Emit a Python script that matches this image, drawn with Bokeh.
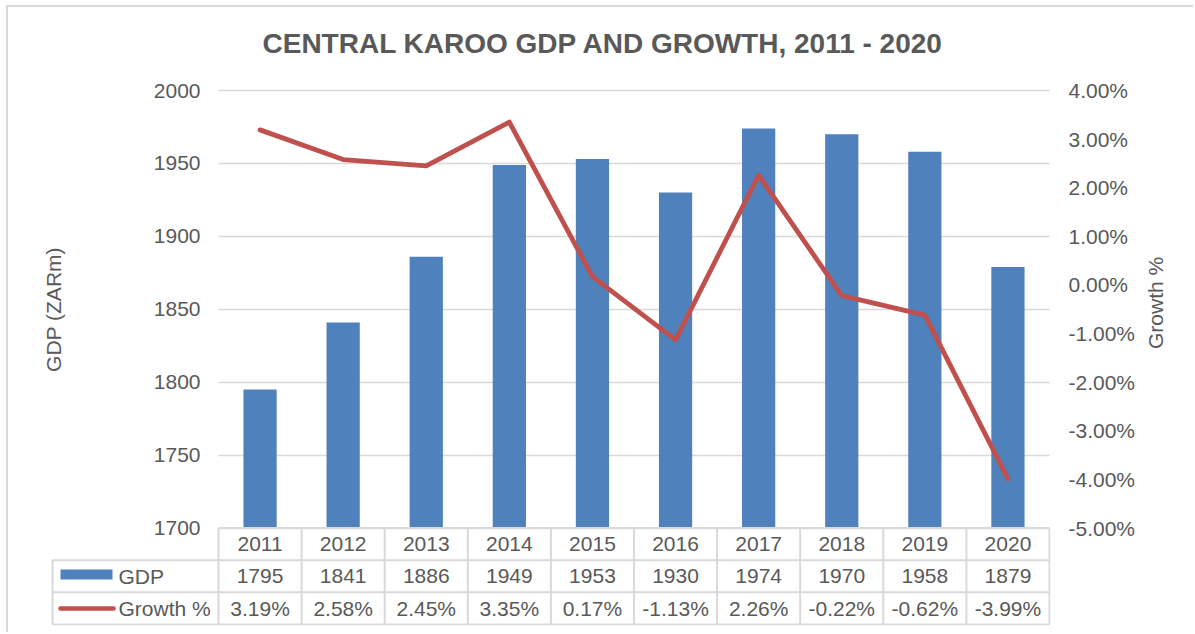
import math
from bokeh.plotting import figure
from bokeh.models import Range1d, LinearAxis, FixedTicker, PrintfTickFormatter
from bokeh.core.properties import value
from bokeh.embed import file_html
from bokeh.resources import INLINE

# ---------------- data ----------------
years = ["2011", "2012", "2013", "2014", "2015", "2016", "2017", "2018", "2019", "2020"]
gdp = [1795, 1841, 1886, 1949, 1953, 1930, 1974, 1970, 1958, 1879]
growth = [3.19, 2.58, 2.45, 3.35, 0.17, -1.13, 2.26, -0.22, -0.62, -3.99]
gdp_ticks = [1700, 1750, 1800, 1850, 1900, 1950, 2000]
growth_ticks = [-5, -4, -3, -2, -1, 0, 1, 2, 3, 4]
title_text = "CENTRAL KAROO GDP AND GROWTH, 2011 - 2020"
gdp_axis_label = "GDP (ZARm)"
growth_axis_label = "Growth %"
row_labels = ["GDP", "Growth %"]

# ---------------- layout (page pixels) ----------------
ORIGIN_X, ORIGIN_Y = 8, 7          # canvas origin (after css margin + border)
W, H = 1187, 627
FRAME_L, FRAME_R = 12, 1050
FRAME_T, FRAME_B = 72, 625
PLOT_L = 218                       # left edge of category area
AXIS_T, AXIS_B = 90, 527.5         # y of top / bottom tick
TABLE_B = 624
N = len(years)
CAT_W = 83.1
ROW_H = (TABLE_B - AXIS_B) / 3.0
LABEL_COL_L = 52
TITLE_L = 262

TXT = "#595959"
GRID = "#d9d9d9"
BLUE = "#4F81BD"
RED = "#C0504D"
FONT = "Liberation Sans"
FS = "21px"


def px_x(px):
    return (px - PLOT_L) / CAT_W


def px_t(py):
    return (TABLE_B - py) / ROW_H


g0, g1 = gdp_ticks[0], gdp_ticks[-1]
gscale = (AXIS_B - AXIS_T) / (g1 - g0)
gdp_range = Range1d(g0 - (FRAME_B - AXIS_B) / gscale, g1 + (AXIS_T - FRAME_T) / gscale)
r0, r1 = growth_ticks[0], growth_ticks[-1]
rscale = (AXIS_B - AXIS_T) / (r1 - r0)
growth_range = Range1d(r0 - (FRAME_B - AXIS_B) / rscale, r1 + (AXIS_T - FRAME_T) / rscale)
table_range = Range1d(px_t(FRAME_B), px_t(FRAME_T))

p = figure(width=W, height=H,
           x_range=Range1d(px_x(FRAME_L), px_x(FRAME_R)), y_range=gdp_range,
           output_backend="svg", toolbar_location=None,
           min_border_left=FRAME_L - ORIGIN_X,
           min_border_right=W - (FRAME_R - ORIGIN_X),
           min_border_top=FRAME_T - ORIGIN_Y,
           min_border_bottom=H - (FRAME_B - ORIGIN_Y),
           title=title_text)
p.styles = {"margin-left": "6px", "margin-top": "5px",
            "border-left": "2px solid " + GRID, "border-top": "2px solid " + GRID}
p.extra_y_ranges = {"growth": growth_range, "table": table_range}
p.outline_line_color = None
p.background_fill_color = "white"
p.border_fill_color = "white"

p.title.text_font = FONT
p.title.text_font_size = "28px"
p.title.text_font_style = "bold"
p.title.text_color = TXT
p.title.align = "left"
p.title.offset = TITLE_L - FRAME_L
p.title.standoff = 28

p.xaxis.visible = False
p.xgrid.visible = False

ax = p.left[0]
ax.fixed_location = 0
ax.ticker = FixedTicker(ticks=gdp_ticks)
ax.bounds = (g0, g1)
ax.axis_line_color = None
ax.major_tick_line_color = None
ax.minor_tick_line_color = None
ax.major_tick_out = 0
ax.major_tick_in = 0
ax.major_label_standoff = 18
ax.major_label_text_font = FONT
ax.major_label_text_font_size = FS
ax.major_label_text_color = TXT
ax.axis_label = gdp_axis_label
ax.axis_label_standoff = 86
ax.axis_label_text_font = FONT
ax.axis_label_text_font_size = FS
ax.axis_label_text_font_style = "normal"
ax.axis_label_text_color = TXT

p.ygrid.ticker = FixedTicker(ticks=gdp_ticks)
p.ygrid.grid_line_color = GRID
p.ygrid.grid_line_width = 1.5
try:
    p.ygrid.cross_bounds = (0, N)
except Exception:
    p.ygrid.visible = False
    p.segment(x0=0, y0=gdp_ticks, x1=N, y1=gdp_ticks, line_color=GRID, line_width=1.5)

rax = LinearAxis(y_range_name="growth", ticker=FixedTicker(ticks=growth_ticks),
                 formatter=PrintfTickFormatter(format="%.2f%%"), bounds=(r0, r1),
                 axis_line_color=None, major_tick_line_color=None, minor_tick_line_color=None,
                 major_tick_out=0, major_tick_in=0, major_label_standoff=18,
                 major_label_text_font=FONT, major_label_text_font_size=FS,
                 major_label_text_color=TXT,
                 axis_label=growth_axis_label, axis_label_standoff=17,
                 axis_label_text_font=FONT, axis_label_text_font_size=FS,
                 axis_label_text_font_style="normal", axis_label_text_color=TXT)
try:
    rax.axis_label_orientation = math.pi / 2
except Exception:
    pass
p.add_layout(rax, "right")

xc = [i + 0.5 for i in range(N)]

p.vbar(x=xc, top=gdp, bottom=g0, width=0.4, fill_color=BLUE, line_color=None)

# ---------------- data table ----------------
lab_x = px_x(LABEL_COL_L)
vx = list(range(N + 1))
p.segment(x0=vx, y0=0, x1=vx, y1=3, y_range_name="table", line_color=GRID, line_width=2)
p.segment(x0=lab_x, y0=0, x1=lab_x, y1=2, y_range_name="table", line_color=GRID, line_width=2)
p.segment(x0=lab_x, y0=[0, 1, 2], x1=N, y1=[0, 1, 2], y_range_name="table",
          line_color=GRID, line_width=2)
p.segment(x0=0, y0=3, x1=N, y1=3, y_range_name="table", line_color=GRID, line_width=2)

p.line(xc, growth, y_range_name="growth", line_color=RED, line_width=4.8,
       line_join="round", line_cap="round")

txt_kw = dict(y_range_name="table", text_align="center", text_baseline="middle",
              text_font=value(FONT), text_font_size=FS, text_color=TXT)
p.text(x=xc, y=[2.5] * N, text=years, **txt_kw)
p.text(x=xc, y=[1.5] * N, text=[str(v) for v in gdp], **txt_kw)
p.text(x=xc, y=[0.5] * N, text=["%.2f%%" % v for v in growth], **txt_kw)

# legend keys in the label column
p.quad(left=px_x(60), right=px_x(112), bottom=px_t(579), top=px_t(569),
       y_range_name="table", fill_color=BLUE, line_color=None)
p.segment(x0=px_x(60), y0=px_t(608), x1=px_x(113), y1=px_t(608), y_range_name="table",
          line_color=RED, line_width=4.5, line_cap="round")
p.text(x=px_x(118), y=[1.5, 0.5], text=row_labels, y_range_name="table",
       text_align="left", text_baseline="middle", text_font=value(FONT),
       text_font_size=FS, text_color=TXT)

open("out.html", "w").write(file_html(p, INLINE))
